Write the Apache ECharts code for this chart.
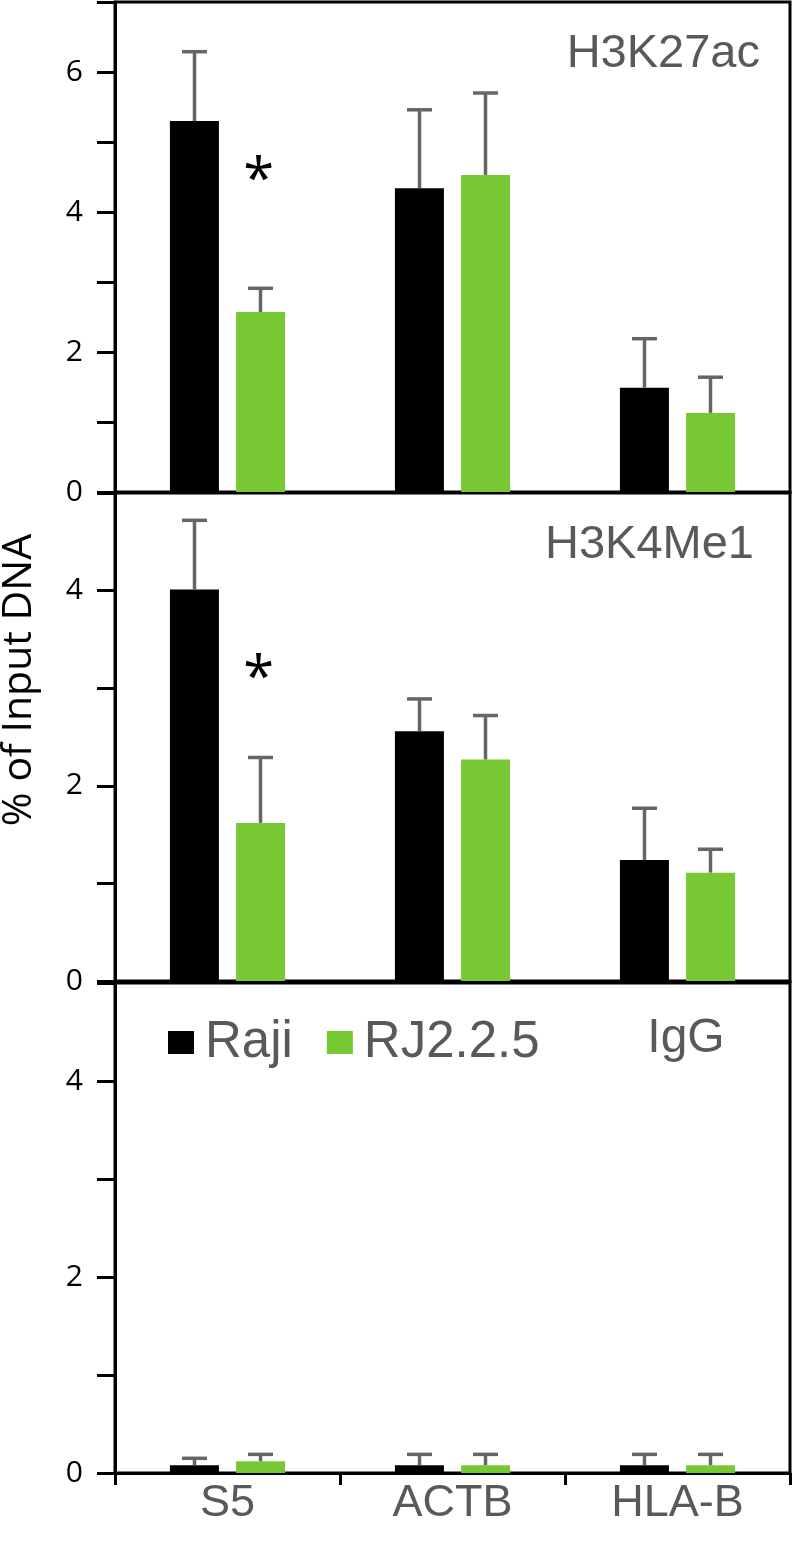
<!DOCTYPE html>
<html>
<head>
<meta charset="utf-8">
<script src="https://cdn.jsdelivr.net/npm/echarts@6/dist/echarts.min.js"></script>
<style>
  html, body { margin: 0; padding: 0; background: #fff; }
  #chart { width: 795px; height: 1550px; }
</style>
</head>
<body>
<div id="chart"></div>
<script>
// categories (genes)
var categories = ['S5', 'ACTB', 'HLA-B'];

// H3K27ac panel
var k27Raji = [5.30, 4.34, 1.49];
var k27RajiSd = [0.99, 1.12, 0.70];
var k27Rj = [2.57, 4.53, 1.13];
var k27RjSd = [0.34, 1.17, 0.51];
var k27Star = 4.63;

// H3K4Me1 panel
var k4Raji = [4.01, 2.56, 1.24];
var k4RajiSd = [0.71, 0.33, 0.53];
var k4Rj = [1.62, 2.27, 1.11];
var k4RjSd = [0.67, 0.45, 0.24];
var k4Star = 3.23;

// IgG panel
var iggRaji = [0.08, 0.08, 0.08];
var iggRajiSd = [0.07, 0.11, 0.11];
var iggRj = [0.12, 0.08, 0.08];
var iggRjSd = [0.07, 0.11, 0.11];

var yMax = [7, 5, 5];

var BLACK = '#000000';
var GREEN = '#77c832';
var ERR = '#666666';
var GRAY_TEXT = '#595959';
var BAR_W = 49;
var HALF_STEP = 33; // (bar width + gap) / 2

var chart = echarts.init(document.getElementById('chart'));

function errorRender(offset) {
  return function (params, api) {
    var p0 = api.coord([api.value(0), api.value(1)]);
    var p1 = api.coord([api.value(0), api.value(2)]);
    var cx = p0[0] + offset;
    var st = { stroke: ERR, lineWidth: 3.5 };
    return {
      type: 'group',
      children: [
        { type: 'line', shape: { x1: cx, y1: p0[1], x2: cx, y2: p1[1] }, style: st },
        { type: 'line', shape: { x1: cx - 12.5, y1: p1[1], x2: cx + 12.5, y2: p1[1] }, style: st }
      ]
    };
  };
}

function errData(vals, sd) {
  return vals.map(function (v, i) { return [i, v, v + sd[i]]; });
}

var panels = [
  { raji: k27Raji, rajiSd: k27RajiSd, rj: k27Rj, rjSd: k27RjSd, star: k27Star },
  { raji: k4Raji, rajiSd: k4RajiSd, rj: k4Rj, rjSd: k4RjSd, star: k4Star },
  { raji: iggRaji, rajiSd: iggRajiSd, rj: iggRj, rjSd: iggRjSd, star: null }
];

var grids = [
  { left: 115, right: 5, top: 2, height: 490 },
  { left: 115, right: 5, top: 493, height: 488 },
  { left: 115, right: 5, top: 983, height: 490 }
];

var xAxes = [], yAxes = [], series = [];

panels.forEach(function (p, i) {
  grids[i].show = true;
  grids[i].borderColor = '#000';
  grids[i].borderWidth = 3;
  var last = i === 2;
  xAxes.push({
    type: 'category',
    gridIndex: i,
    data: categories,
    boundaryGap: true,
    axisLine: { show: true, lineStyle: { color: '#000', width: 3 } },
    axisTick: { show: last, length: 12, lineStyle: { color: '#000', width: 3 } },
    axisLabel: {
      show: last, fontSize: 45, color: GRAY_TEXT, margin: 8,
      fontFamily: 'Liberation Sans'
    },
    splitLine: { show: false }
  });
  yAxes.push({
    type: 'value',
    gridIndex: i,
    min: 0,
    max: yMax[i],
    interval: 1,
    axisLine: { show: true, lineStyle: { color: '#000', width: 3 } },
    axisTick: { show: true, length: 18, lineStyle: { color: '#000', width: 3 } },
    axisLabel: {
      fontSize: 30, color: '#000', margin: 32, fontFamily: 'Open Sans',
      formatter: function (v) { return v % 2 === 0 ? String(v) : ''; }
    },
    splitLine: { show: false }
  });

  var rjSeries = {
    name: 'RJ2.2.5', type: 'bar', xAxisIndex: i, yAxisIndex: i,
    barWidth: BAR_W, barGap: '35%',
    itemStyle: { color: GREEN },
    data: p.rj
  };
  if (p.star !== null) {
    rjSeries.markPoint = {
      symbol: 'rect', symbolSize: 0,
      label: {
        show: true, formatter: '*', fontSize: 56, color: '#000',
        fontFamily: 'Open Sans', offset: [-2, 14]
      },
      data: [{ coord: [0, p.star] }]
    };
  }
  series.push({
    name: 'Raji', type: 'bar', xAxisIndex: i, yAxisIndex: i,
    barWidth: BAR_W, barGap: '35%',
    itemStyle: { color: BLACK },
    data: p.raji
  });
  series.push(rjSeries);
  series.push({
    name: 'err-raji-' + i, type: 'custom', xAxisIndex: i, yAxisIndex: i,
    renderItem: errorRender(-HALF_STEP), z: 5,
    data: errData(p.raji, p.rajiSd)
  });
  series.push({
    name: 'err-rj-' + i, type: 'custom', xAxisIndex: i, yAxisIndex: i,
    renderItem: errorRender(HALF_STEP), z: 5,
    data: errData(p.rj, p.rjSd)
  });
});

var option = {
  animation: false,
  backgroundColor: '#fff',
  title: [
    { text: 'H3K27ac', right: 30, top: 26, textStyle: { fontSize: 47, fontWeight: 'normal', color: GRAY_TEXT, fontFamily: 'Liberation Sans' } },
    { text: 'H3K4Me1', right: 36, top: 517, textStyle: { fontSize: 47, fontWeight: 'normal', color: GRAY_TEXT, fontFamily: 'Liberation Sans' } },
    { text: 'IgG', left: 681, textAlign: 'center', top: 1010, textStyle: { fontSize: 48, fontWeight: 'normal', color: GRAY_TEXT, fontFamily: 'Liberation Sans' } }
  ],
  legend: {
    left: 163, top: 1012,
    itemWidth: 26, itemHeight: 23, itemGap: 34,
    selectedMode: false,
    textStyle: { fontSize: 51, color: GRAY_TEXT, fontFamily: 'Liberation Sans', padding: [0, 0, 0, 6] },
    data: [{ name: 'Raji', icon: 'rect' }, { name: 'RJ2.2.5', icon: 'rect' }]
  },
  graphic: [{
    type: 'text', x: 19, y: 680, rotation: Math.PI / 2,
    style: { text: '% of Input DNA', fontSize: 41, fill: '#000', fontFamily: 'Open Sans', align: 'center', verticalAlign: 'middle' }
  }],
  grid: grids,
  xAxis: xAxes,
  yAxis: yAxes,
  series: series
};

chart.setOption(option);
</script>
</body>
</html>
